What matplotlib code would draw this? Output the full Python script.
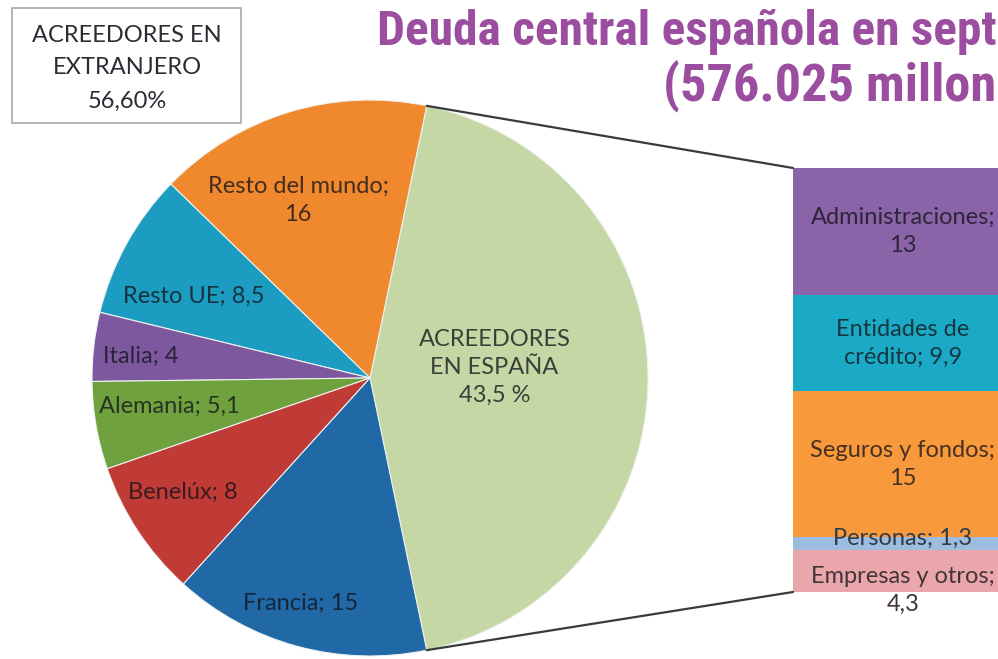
import matplotlib
matplotlib.use("Agg")
import matplotlib.pyplot as plt
from matplotlib.patches import ConnectionPatch, Rectangle
from matplotlib.colors import to_rgb
import numpy as np

# ---------------- data ----------------
pie_labels = ["ACREEDORES\nEN ESPAÑA\n43,5 %", "Resto del mundo;\n16", "Resto UE; 8,5",
              "Italia; 4", "Alemania; 5,1", "Benelúx; 8", "Francia; 15"]
pie_values = [43.5, 16, 8.5, 4, 5.1, 8, 15]
pie_colors = ["#C4D7A5", "#F0882E", "#1C9CC0", "#7D589F", "#6FA23E", "#C13B36", "#2068A6"]

bar_labels = ["Empresas y otros;\n4,3", "Personas; 1,3", "Seguros y fondos;\n15",
              "Entidades de\ncrédito; 9,9", "Administraciones;\n13"]
bar_values = [4.3, 1.3, 15, 9.9, 13]
bar_colors = ["#E9A7AB", "#9DBDE0", "#F89A3C", "#1AAAC6", "#8B63A9"]

box_text = "ACREEDORES EN\nEXTRANJERO\n56,60%"
title_1 = "Deuda central española en sept"
title_2 = "(576.025 millon"


def dark(c, k=0.22):
    r, g, b = to_rgb(c)
    return (r * k + 0.06, g * k + 0.06, b * k + 0.08)


# ---------------- layout ----------------
W, H = 998, 659
fig = plt.figure(figsize=(W / 100, H / 100), dpi=100)
fig.patch.set_facecolor("white")
ax = fig.add_axes([0, 0, 1, 1])

cx, cy, R = 370, H - 378, 278
total = sum(pie_values)
start = -pie_values[0] / total * 180.0
wedges, _ = ax.pie(pie_values, colors=pie_colors, startangle=start, counterclock=True,
                   center=(cx, cy), radius=R,
                   wedgeprops=dict(edgecolor="#EEF2F0", linewidth=0.8))
ax.set_xlim(0, W)
ax.set_ylim(0, H)
ax.set_aspect("equal")
ax.axis("off")

lbl_font = ["Lato", "DejaVu Sans"]
FS = 17
LS = 1.4
# radial factor and angular tweak (degrees) for each pie label
rfac = [0.45, 0.69, 0.70, 0.83, 0.73, 0.79, 0.85]
dang = [5, 5, 4, 1, -2, -2, -2]
for w, lab, rf, da, col in zip(wedges, pie_labels, rfac, dang, pie_colors):
    th = np.deg2rad((w.theta1 + w.theta2) / 2 + da)
    ax.text(cx + rf * R * np.cos(th), cy + rf * R * np.sin(th), lab,
            ha="center", va="center", fontsize=FS, family=lbl_font,
            color=dark(col), linespacing=LS)

# ---------------- bar of pie ----------------
bx0, bx1 = 793, 1013
by0, by1 = H - 592, H - 168
bax = fig.add_axes([bx0 / W, by0 / H, (bx1 - bx0) / W, (by1 - by0) / H])
btotal = sum(bar_values)
bottom = 0
offsets = [-14, 4, 0, 0, 0]
for v, c, lab, off in zip(bar_values, bar_colors, bar_labels, offsets):
    bax.bar(0, v, bottom=bottom, width=1.0, color=c, edgecolor="none")
    bax.annotate(lab, (0, bottom + v / 2), xytext=(0, off), textcoords="offset points",
                 ha="center", va="center", fontsize=FS, family=lbl_font,
                 color=dark(c), linespacing=LS, annotation_clip=False)
    bottom += v
bax.set_xlim(-0.5, 0.5)
bax.set_ylim(0, btotal)
bax.axis("off")

# connector lines from green wedge edges to bar corners
gw = wedges[0]
for ang, yb in ((gw.theta2, btotal), (gw.theta1, 0)):
    t = np.deg2rad(ang)
    p = (cx + R * np.cos(t), cy + R * np.sin(t))
    con = ConnectionPatch(xyA=p, coordsA=ax.transData, xyB=(-0.5, yb), coordsB=bax.transData,
                          color="#3A3A3A", linewidth=1.6)
    fig.add_artist(con)

# ---------------- text box ----------------
ax.add_patch(Rectangle((12, H - 123), 229, 115, fc="white", ec="#A8A8A8", lw=1.2, zorder=3))
ax.text(127, H - 68, box_text, ha="center", va="center", fontsize=FS, family=lbl_font,
        color="#2B2B33", linespacing=1.7, zorder=4)

# ---------------- title (fitted to the visible width) ----------------
tfont = ["Roboto Condensed", "Liberation Sans Narrow", "DejaVu Sans"]
rend = fig.canvas.get_renderer()
t1 = fig.text(377 / W, 1 - 45 / H, title_1, ha="left", va="baseline", fontsize=36,
              fontweight="bold", family=tfont, fontstretch="condensed", color="#9B4EA0")
fs1 = 36 * (W - 2 - 377) / t1.get_window_extent(rend).width
t1.set_fontsize(fs1)
t2 = fig.text((W - 2) / W, 1 - 100 / H, title_2, ha="right", va="baseline", fontsize=36,
              fontweight="bold", family=tfont, fontstretch="condensed", color="#9B4EA0")
fs2 = 36 * (W - 2 - 643) / t2.get_window_extent(rend).width
t2.set_fontsize((fs1 + fs2) / 2)

fig.savefig("out.png", dpi=100)
